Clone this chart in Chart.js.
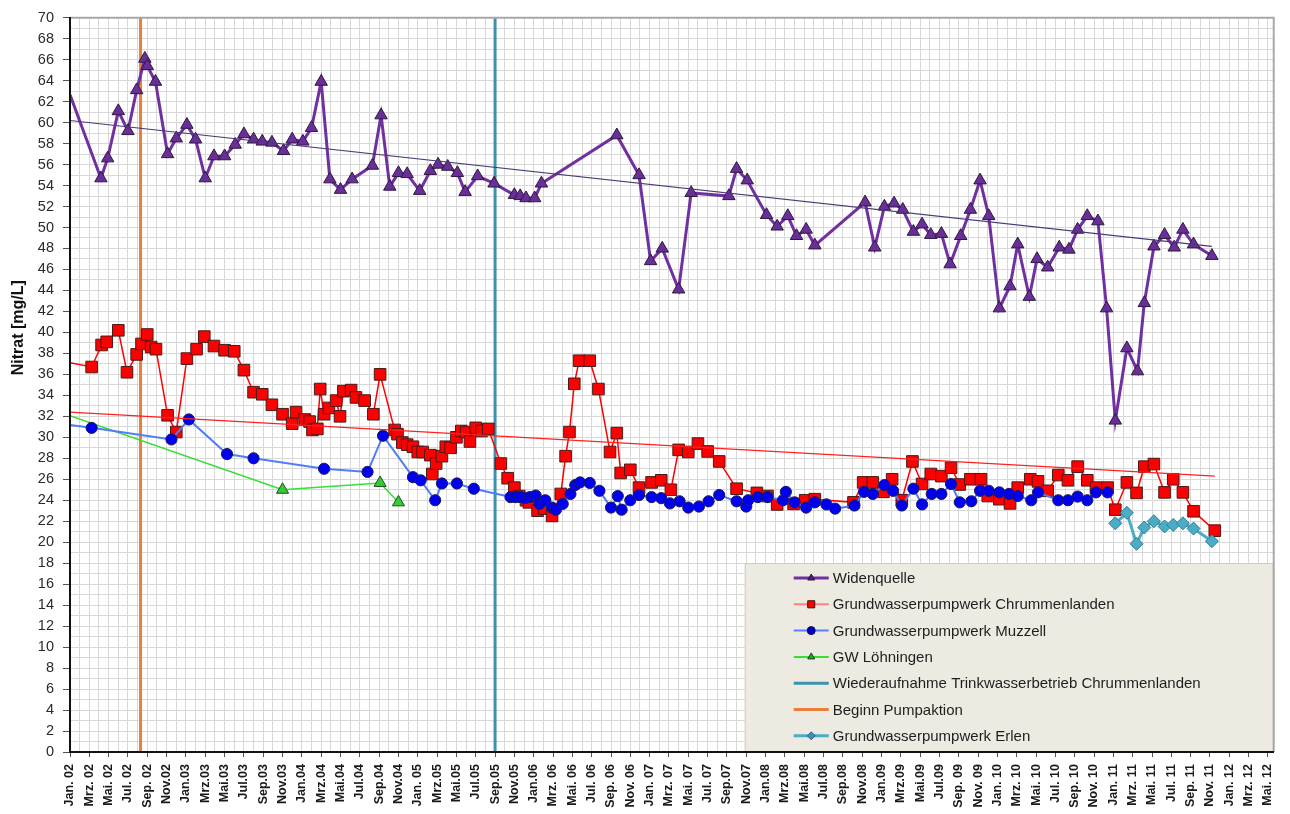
<!DOCTYPE html>
<html><head><meta charset="utf-8">
<script src="https://cdn.jsdelivr.net/npm/chart.js@4.4.1/dist/chart.umd.min.js"></script>
<style>html,body{margin:0;padding:0;background:#fff;}canvas{display:block;}</style>
</head><body>
<canvas id="c" width="1290" height="814"></canvas>
<script>
// x values = months since Jan 2002
const tickLabels = ["Jan. 02","Mrz. 02","Mai. 02","Jul. 02","Sep. 02","Nov.02","Jan.03","Mrz.03","Mai.03","Jul.03","Sep.03","Nov.03","Jan.04","Mrz.04","Mai.04","Jul.04","Sep.04","Nov.04","Jan. 05","Mrz.05","Mai.05","Jul.05","Sep.05","Nov.05","Jan.06","Mrz. 06","Mai. 06","Jul. 06","Sep. 06","Nov. 06","Jan. 07","Mrz. 07","Mai. 07","Jul. 07","Sep.07","Nov.07","Jan.08","Mrz.08","Mai.08","Jul.08","Sep.08","Nov.08","Jan.09","Mrz.09","Mai.09","Jul.09","Sep. 09","Nov. 09","Jan. 10","Mrz. 10","Mai. 10","Jul. 10","Sep. 10","Nov. 10","Jan. 11","Mrz. 11","Mai. 11","Jul. 11","Sep. 11","Nov. 11","Jan. 12","Mrz. 12","Mai. 12"];

const widenMonths = [0,3.2,3.9,5.0,6.0,6.9,7.75,8.0,8.85,10.1,11.0,12.1,13.0,14.0,14.9,16.0,17.1,18.0,19.0,19.9,20.9,22.1,23.0,24.1,25.0,26.0,26.9,28.0,29.2,31.3,32.2,33.1,34.0,34.9,36.2,37.3,38.1,39.1,40.1,40.9,42.2,43.9,46.0,46.6,47.2,48.1,48.8,56.6,58.9,60.1,61.3,63.0,64.3,68.2,69.0,70.1,72.1,73.2,74.3,75.2,76.2,77.1,82.3,83.3,84.3,85.3,86.2,87.3,88.2,89.1,90.2,91.1,92.2,93.2,94.2,95.1,96.2,97.3,98.1,99.3,100.1,101.2,102.4,103.4,104.3,105.3,106.4,107.3,108.2,109.4,110.5,111.2,112.2,113.3,114.3,115.2,116.3,118.2];
const widenValues = [62.65,54.7,56.6,61.1,59.2,63.1,66.1,65.4,63.9,57.0,58.5,59.8,58.4,54.7,56.8,56.8,57.9,58.9,58.4,58.2,58.1,57.3,58.4,58.2,59.5,63.9,54.6,53.6,54.6,55.9,60.7,53.9,55.2,55.1,53.5,55.4,56.0,55.8,55.2,53.4,54.9,54.2,53.1,53.0,52.8,52.8,54.2,58.8,55.0,46.8,48.0,44.1,53.3,53.0,55.6,54.5,51.2,50.1,51.1,49.2,49.8,48.3,52.4,48.1,52.0,52.3,51.7,49.6,50.3,49.3,49.4,46.5,49.2,51.7,54.5,51.1,42.3,44.4,48.4,43.4,47.0,46.2,48.1,47.9,49.8,51.1,50.6,42.3,31.6,38.5,36.3,42.8,48.2,49.3,48.1,49.8,48.4,47.3];

const chrumMonths = [0,2.24,3.27,3.8,5.0,5.9,6.9,7.4,8.0,8.4,8.9,10.1,11.0,12.1,13.1,13.9,14.9,16.0,17.0,18.0,19.0,19.9,20.9,22.0,23.0,23.4,24.3,24.8,25.1,25.6,25.9,26.3,26.8,27.55,27.95,28.3,29.1,29.6,30.5,31.4,32.1,33.6,33.9,34.4,34.9,35.5,36.0,36.5,37.3,37.5,37.9,38.5,38.9,39.4,40.0,40.5,41.0,41.4,42.0,42.6,43.3,44.6,45.3,46.0,46.5,47.2,47.5,48.4,49.1,49.9,50.8,51.3,51.7,52.2,52.7,53.8,54.7,55.9,56.6,57.0,58.0,58.9,60.2,61.2,62.2,63.0,64.0,65.0,66.0,67.2,69.0,71.1,72.2,73.2,74.9,76.1,77.1,81.1,82.1,83.1,84.2,85.1,86.1,87.2,88.2,89.1,90.2,91.2,92.1,93.2,94.3,95.0,96.2,97.3,98.1,99.4,100.2,101.2,102.3,103.3,104.3,105.3,106.2,107.4,108.2,109.4,110.4,111.2,112.2,113.3,114.2,115.2,116.3,118.5];
const chrumValues = [37.1,36.7,38.8,39.1,40.2,36.2,37.9,38.9,39.8,38.6,38.4,32.1,30.5,37.5,38.4,39.6,38.7,38.3,38.2,36.4,34.3,34.1,33.1,32.2,31.3,32.4,31.7,31.5,30.7,30.8,34.6,32.2,32.8,33.5,32.0,34.4,34.5,33.8,33.5,32.2,36.0,30.7,30.3,29.5,29.3,29.1,28.6,28.6,28.3,26.5,27.5,28.2,29.1,29.0,30.0,30.6,30.5,29.6,30.9,30.6,30.8,27.5,26.1,25.2,24.4,24.0,23.8,23.0,23.2,22.5,24.6,28.2,30.5,35.1,37.3,37.3,34.6,28.6,30.4,26.6,26.9,25.2,25.7,25.9,25.0,28.8,28.6,29.4,28.65,27.7,25.1,24.7,24.4,23.6,23.65,24.0,24.1,23.8,25.7,25.7,24.8,26.0,24.0,27.7,25.55,26.5,26.3,27.1,25.5,26.0,26.0,24.4,24.1,23.7,25.2,26.0,25.8,24.9,26.4,25.9,27.2,25.9,25.2,25.2,23.1,25.7,24.7,27.2,27.45,24.75,26.0,24.75,22.95,21.1];

const muzzellMonths = [0,2.24,10.5,12.3,16.25,19.0,26.3,30.8,32.4,35.5,36.3,37.8,38.5,40.05,41.8,45.6,46.1,46.6,47.1,47.6,48.2,48.6,49.2,49.9,50.3,51.0,51.8,52.3,52.8,53.8,54.8,56.0,56.7,57.1,58.0,58.9,60.2,61.2,62.1,63.1,64.0,65.1,66.1,67.2,69.0,70.0,70.2,71.2,72.2,73.8,74.1,75.0,76.2,77.1,78.3,79.2,81.2,82.2,83.1,84.3,85.2,86.1,87.3,88.2,89.2,90.2,91.2,92.1,93.3,94.2,95.1,96.2,97.2,98.1,99.5,100.2,102.3,103.3,104.3,105.3,106.2,107.4];
const muzzellValues = [31.17,30.9,29.8,31.7,28.4,28.0,27.0,26.7,30.15,26.2,25.9,24.0,25.6,25.6,25.1,24.3,24.3,24.3,24.2,24.3,24.45,23.65,24.0,23.3,23.1,23.65,24.6,25.45,25.7,25.65,24.9,23.3,24.4,23.1,24.0,24.5,24.3,24.2,23.7,23.9,23.3,23.4,23.9,24.5,23.9,23.4,24.0,24.3,24.3,24.0,24.8,23.8,23.3,23.8,23.6,23.2,23.5,24.8,24.6,25.45,24.9,23.5,25.1,23.6,24.6,24.6,25.55,23.8,23.9,24.9,24.9,24.75,24.6,24.4,24.0,24.75,24.0,24.0,24.35,24.0,24.75,24.75];

const loehMonths = [0,22.0,32.1,34.0];
const loehValues = [32.06,25.0,25.65,23.8];

const erlenMonths = [108.2,109.4,110.4,111.2,112.2,113.3,114.2,115.2,116.3,118.2];
const erlenValues = [21.8,22.8,19.85,21.4,22.0,21.5,21.65,21.8,21.3,20.1];

const widenTrendMonths = [0,118.2];
const widenTrendValues = [60.2,48.2];
const chrumTrendMonths = [0,118.5];
const chrumTrendValues = [32.4,26.3];

const pumpStartMonth = 7.3;   // Beginn Pumpaktion
const resumeMonth = 44.0;     // Wiederaufnahme Trinkwasserbetrieb
const yRange = [0,70];
const xMax = 124.6;

const legendLabels = ["Widenquelle","Grundwasserpumpwerk Chrummenlanden","Grundwasserpumpwerk Muzzell","GW Löhningen","Wiederaufnahme Trinkwasserbetrieb Chrummenlanden","Beginn Pumpaktion","Grundwasserpumpwerk Erlen"];

const pts = (xs, ys) => xs.map((x, i) => ({x, y: ys[i]}));
const vline = m => [{x: m, y: yRange[0]}, {x: m, y: yRange[1]}];
const hideFirst = r => (c => c.dataIndex === 0 ? 0 : r);

Chart.defaults.font.family = "'Liberation Sans', Arial, sans-serif";

const legendStyles = [
  {line:'#7030A0', lw:3, style:'triangle', fill:'#4B2370', stroke:'#2A1540'},
  {line:'#FF8080', lw:2, style:'rect', fill:'#FF0000', stroke:'#401010'},
  {line:'#5B7FFF', lw:2, style:'circle', fill:'#0000CC', stroke:'#10104A'},
  {line:'#33E033', lw:2, style:'triangle', fill:'#2FA02F', stroke:'#1A401A'},
  {line:'#3A93AC', lw:3, style:null},
  {line:'#E8803A', lw:3, style:null},
  {line:'#4BACC6', lw:3, style:'rectRot', fill:'#4090B5', stroke:'#2A6A85'}
];

const overlay = {
  id: 'overlay',
  afterDatasetsDraw(chart) {
    const {ctx, chartArea: a} = chart;
    ctx.save();
    // legend box
    const bw = 529, bh = 189;
    const bx = a.right - bw, by = a.bottom - bh;
    ctx.fillStyle = '#ECEAE1';
    ctx.fillRect(bx, by, bw, bh);
    ctx.strokeStyle = '#CFCCC0';
    ctx.lineWidth = 1;
    ctx.strokeRect(bx + 0.5, by + 0.5, bw - 1, bh - 1);
    ctx.font = "15px 'Liberation Sans', Arial, sans-serif";
    ctx.textBaseline = 'middle';
    ctx.textAlign = 'left';
    legendLabels.forEach((t, i) => {
      const y = by + 15 + i * 26.3;
      const s = legendStyles[i];
      ctx.strokeStyle = s.line; ctx.lineWidth = s.lw;
      ctx.beginPath(); ctx.moveTo(bx + 49, y); ctx.lineTo(bx + 84, y); ctx.stroke();
      if (s.style) {
        ctx.fillStyle = s.fill; ctx.strokeStyle = s.stroke;
        ctx.lineWidth = 1;
        Chart.helpers.drawPoint(ctx, {pointStyle: s.style, radius: s.style === 'rect' ? 5 : 4, borderWidth: 1, rotation: 0}, bx + 66.5, y);
      }
      ctx.fillStyle = '#1E1E1E';
      ctx.fillText(t, bx + 88, y + 1);
    });
    // top/right frame
    ctx.strokeStyle = '#A8A8A8'; ctx.lineWidth = 2;
    ctx.beginPath(); ctx.moveTo(a.left, a.top); ctx.lineTo(a.right, a.top); ctx.lineTo(a.right, a.bottom); ctx.stroke();
    // y-axis title
    ctx.translate(19, a.top + 310);
    ctx.rotate(-Math.PI / 2);
    ctx.font = "bold 16px 'Liberation Sans', Arial, sans-serif";
    ctx.fillStyle = '#111';
    ctx.textAlign = 'center';
    ctx.fillText('Nitrat [mg/L]', 0, 0);
    ctx.restore();
  }
};

new Chart(document.getElementById('c'), {
  type: 'scatter',
  data: {
    datasets: [
      {label: legendLabels[5], data: vline(pumpStartMonth), showLine: true, borderColor: '#E8803A', borderWidth: 3, pointRadius: 0, order: 10},
      {label: legendLabels[4], data: vline(resumeMonth), showLine: true, borderColor: '#3A93AC', borderWidth: 3, pointRadius: 0, order: 10},
      {label: legendLabels[3], data: pts(loehMonths, loehValues), showLine: true, borderColor: '#33E033', borderWidth: 1.5,
        pointStyle: 'triangle', pointRadius: hideFirst(7), pointBackgroundColor: '#33CC33', pointBorderColor: '#2A4A2A', pointBorderWidth: 1, order: 7},
      {label: legendLabels[1], data: pts(chrumMonths, chrumValues), showLine: true, borderColor: '#FF0000', borderWidth: 1.5,
        pointStyle: 'rect', pointRadius: hideFirst(8.2), pointBackgroundColor: '#FF0000', pointBorderColor: '#4A1A1A', pointBorderWidth: 1, order: 6},
      {label: legendLabels[2], data: pts(muzzellMonths, muzzellValues), showLine: true, borderColor: '#4F7DF5', borderWidth: 2,
        pointStyle: 'circle', pointRadius: hideFirst(5.6), pointBackgroundColor: '#0000F0', pointBorderColor: '#1A1A5A', pointBorderWidth: 1, order: 5},
      {label: legendLabels[6], data: pts(erlenMonths, erlenValues), showLine: true, borderColor: '#4BACC6', borderWidth: 3,
        pointStyle: 'rectRot', pointRadius: 6.5, pointBackgroundColor: '#4BACC6', pointBorderColor: '#2E7D95', pointBorderWidth: 1, order: 4},
      {label: legendLabels[0], data: pts(widenMonths, widenValues), showLine: true, borderColor: '#7030A0', borderWidth: 3,
        pointStyle: 'triangle', pointRadius: hideFirst(7.2), pointBackgroundColor: '#6A2E98', pointBorderColor: '#2E1A40', pointBorderWidth: 1, order: 3},
      {label: 'Trend Widenquelle', data: pts(widenTrendMonths, widenTrendValues), showLine: true, borderColor: '#4A3A78', borderWidth: 1.2, pointRadius: 0, order: 1},
      {label: 'Trend Chrummenlanden', data: pts(chrumTrendMonths, chrumTrendValues), showLine: true, borderColor: '#FF2020', borderWidth: 1.2, pointRadius: 0, order: 1}
    ]
  },
  options: {
    responsive: false,
    devicePixelRatio: 1,
    animation: false,
    events: [],
    layout: {padding: {top: 16, right: 14, left: 0, bottom: 0}},
    plugins: {legend: {display: false}, tooltip: {enabled: false}},
    elements: {line: {tension: 0}},
    scales: {
      x: {
        type: 'linear', min: 0, max: xMax,
        afterBuildTicks: s => { s.ticks = Array.from({length: tickLabels.length * 2 - 1}, (_, i) => ({value: i})); },
        afterFit: s => { s.height = 62; },
        grid: {color: '#D8D8D8', lineWidth: 1, tickLength: 5, tickColor: c => (c.tick && c.tick.value % 2 === 0) ? '#555' : 'rgba(0,0,0,0)'},
        border: {color: '#111', width: 2, z: 1},
        ticks: {
          autoSkip: false, minRotation: 90, maxRotation: 90, padding: 7,
          color: '#1A1A1A', font: {size: 12.5, weight: 'bold'},
          callback: v => (v % 2 === 0 ? tickLabels[v / 2] : '')
        }
      },
      y: {
        type: 'linear', min: yRange[0], max: yRange[1],
        afterBuildTicks: s => { s.ticks = Array.from({length: yRange[1] - yRange[0] + 1}, (_, i) => ({value: yRange[0] + i})); },
        afterFit: s => { s.width = 70; },
        grid: {color: '#D8D8D8', lineWidth: 1, tickLength: 7, tickColor: c => (c.tick && c.tick.value % 2 === 0) ? '#555' : 'rgba(0,0,0,0)'},
        border: {color: '#111', width: 2, z: 1},
        ticks: {
          autoSkip: false, padding: 9, color: '#2A2A2A', font: {size: 14.5},
          callback: v => (v % 2 === 0 ? String(v) : '')
        }
      }
    }
  },
  plugins: [overlay]
});
</script>
</body></html>
